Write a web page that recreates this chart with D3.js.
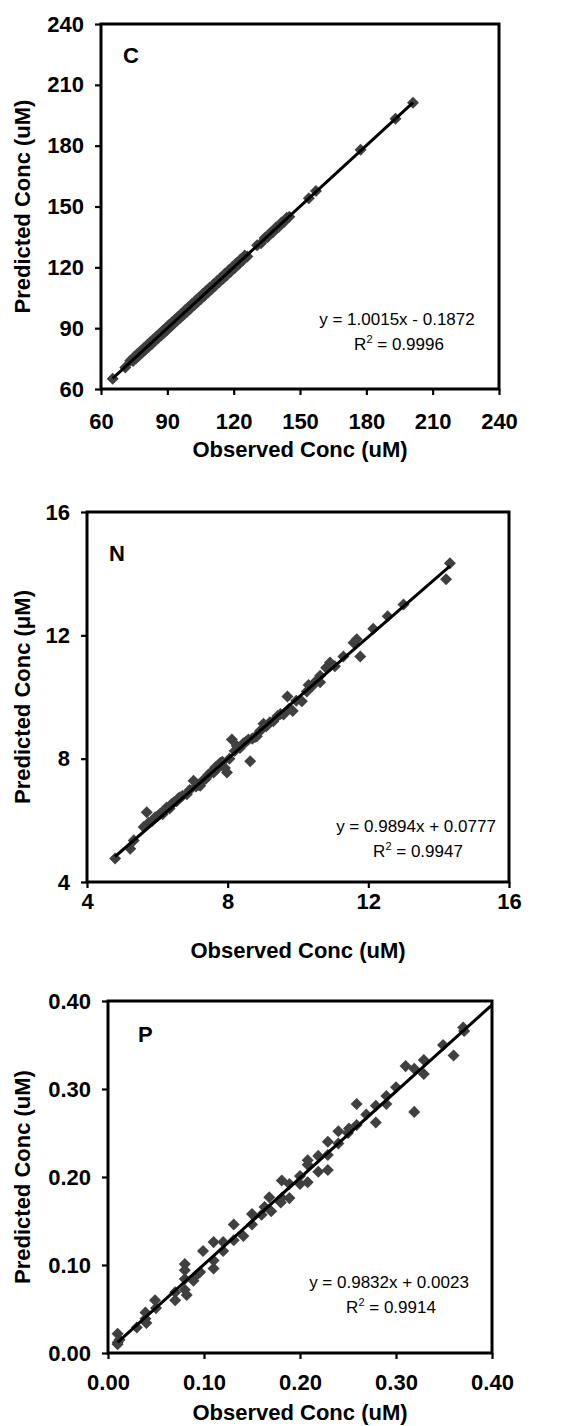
<!DOCTYPE html>
<html>
<head>
<meta charset="utf-8">
<script src="https://cdn.jsdelivr.net/npm/d3@7"></script>
<style>
  body { margin: 0; background: #fff; }
  svg { display: block; font-family: "Liberation Sans", Arial, sans-serif; }
</style>
</head>
<body>
<svg id="chart" width="570" height="1426"></svg>
<script>
// observed vs predicted
const carbonPoints = [
  [65.3,65.1],[71.0,70.6],[73.2,73.9],[74.5,73.8],[75.1,75.9],[75.8,75.0],[76.4,77.2],[77.0,76.3],
  [77.9,78.6],[78.6,77.9],[79.3,80.1],[80.1,79.4],[80.8,81.6],[81.5,80.7],[82.2,83.0],[82.9,82.1],
  [83.6,84.4],[84.4,83.7],[85.0,85.8],[85.7,84.9],[86.5,87.3],[87.2,86.4],[87.9,88.7],[88.6,87.8],
  [89.2,90.0],[89.9,89.1],[90.6,91.4],[91.4,90.6],[92.1,92.9],[92.8,92.0],[93.5,94.3],[94.3,93.5],
  [95.0,95.8],[95.8,95.0],[96.6,97.4],[97.3,96.5],[98.1,98.9],[98.9,98.1],[99.6,100.4],[100.4,99.6],
  [101.2,102.0],[102.0,101.2],[102.8,103.6],[103.5,102.7],[104.3,105.1],[105.1,104.3],[106.0,106.8],
  [106.8,106.0],[107.6,108.4],[108.4,107.6],[109.2,110.0],[110.0,109.2],[110.9,111.7],[111.7,110.9],
  [112.5,113.3],[113.4,112.6],[114.2,115.0],[115.1,114.3],[116.0,116.8],[116.8,116.0],[117.7,118.5],
  [118.6,117.8],[119.5,120.3],[120.4,119.6],[121.3,122.1],[122.2,121.4],[123.1,123.9],[124.0,123.2],
  [125.0,125.8],[126.2,125.4],[130.6,130.9],[132.4,131.9],[134.0,134.5],[135.3,134.8],[136.6,137.1],
  [137.9,137.4],[139.1,139.6],[140.4,139.9],[141.6,142.1],[142.8,142.3],[144.0,144.5],[145.2,144.9],
  [154.0,154.1],[157.2,157.6],[177.4,178.0],[193.2,193.3],[201.1,201.2]
];
const nitrogenPoints = [
  [4.80,4.76],[5.23,5.08],[5.33,5.35],[5.61,5.78],[5.70,6.26],[5.75,5.92],[5.85,5.98],[5.94,6.10],
  [6.02,6.15],[6.08,6.21],[6.15,6.20],[6.22,6.36],[6.27,6.42],[6.35,6.38],[6.40,6.52],[6.46,6.58],
  [6.55,6.62],[6.60,6.72],[6.65,6.75],[6.72,6.80],[6.84,6.85],[6.92,6.98],[7.03,7.28],[7.10,7.10],
  [7.18,7.15],[7.22,7.12],[7.30,7.30],[7.38,7.35],[7.45,7.48],[7.52,7.55],[7.60,7.55],[7.65,7.72],
  [7.69,7.66],[7.75,7.80],[7.79,7.87],[7.85,7.90],[7.92,7.70],[7.98,7.55],[8.05,8.00],[8.12,8.62],
  [8.20,8.25],[8.26,8.41],[8.35,8.35],[8.45,8.50],[8.52,8.55],[8.59,8.62],[8.64,7.92],[8.70,8.65],
  [8.78,8.70],[8.83,8.73],[8.92,8.90],[9.02,9.13],[9.10,9.05],[9.20,9.18],[9.30,9.21],[9.42,9.38],
  [9.50,9.45],[9.59,9.43],[9.70,10.02],[9.75,9.62],[9.85,9.55],[9.95,9.88],[10.11,9.86],[10.25,10.18],
  [10.30,10.39],[10.40,10.35],[10.50,10.50],[10.63,10.48],[10.63,10.69],[10.80,10.95],[10.91,11.12],
  [11.05,11.00],[11.29,11.31],[11.58,11.76],[11.67,11.87],[11.77,11.31],[12.14,12.21],[12.55,12.62],
  [13.00,13.00],[14.21,13.82],[14.32,14.34]
];
const phosphorusPoints = [
  [0.010,0.012],[0.010,0.010],[0.010,0.022],[0.012,0.015],[0.030,0.029],[0.039,0.046],[0.039,0.039],
  [0.040,0.034],[0.049,0.060],[0.050,0.051],[0.070,0.060],[0.070,0.069],[0.080,0.101],[0.080,0.094],
  [0.080,0.084],[0.080,0.072],[0.082,0.066],[0.089,0.082],[0.092,0.088],[0.096,0.092],[0.099,0.116],
  [0.110,0.126],[0.110,0.105],[0.110,0.096],[0.120,0.126],[0.120,0.116],[0.131,0.146],[0.131,0.128],
  [0.141,0.133],[0.150,0.158],[0.150,0.146],[0.160,0.157],[0.163,0.166],[0.170,0.161],[0.168,0.177],
  [0.180,0.171],[0.181,0.196],[0.181,0.176],[0.189,0.192],[0.189,0.176],[0.200,0.201],[0.200,0.192],
  [0.208,0.219],[0.208,0.214],[0.208,0.194],[0.219,0.224],[0.219,0.206],[0.229,0.240],[0.229,0.225],
  [0.229,0.208],[0.240,0.252],[0.240,0.238],[0.250,0.250],[0.251,0.255],[0.259,0.283],[0.259,0.259],
  [0.269,0.271],[0.279,0.281],[0.279,0.262],[0.290,0.292],[0.290,0.283],[0.300,0.302],[0.310,0.326],
  [0.319,0.323],[0.319,0.274],[0.329,0.333],[0.329,0.317],[0.349,0.350],[0.360,0.338],[0.370,0.370],
  [0.371,0.366]
];

const carbonTicks = [60, 90, 120, 150, 180, 210, 240];
const nitrogenTicks = [4, 8, 12, 16];
const phosphorusTicks = [0, 0.1, 0.2, 0.3, 0.4];

// trendline coefficients and text as printed by the spreadsheet
const carbonFit = { slope: 1.0015, intercept: -0.1872, eq: 'y = 1.0015x - 0.1872', r2: '0.9996' };
const nitrogenFit = { slope: 0.9894, intercept: 0.0777, eq: 'y = 0.9894x + 0.0777', r2: '0.9947' };
const phosphorusFit = { slope: 0.9832, intercept: 0.0023, eq: 'y = 0.9832x + 0.0023', r2: '0.9914' };

// layout for the three stacked panels
const panels = [
  { name: 'C', points: carbonPoints, ticks: carbonTicks, fit: carbonFit, fmt: d3.format('d'),
    box: { left: 101, right: 499, top: 24, bottom: 389 }, xPad: 18,
    yTitle: 'Predicted Conc (uM)', titleY: 457, letter: [123, 63], eqAt: [397, 325] },
  { name: 'N', points: nitrogenPoints, ticks: nitrogenTicks, fit: nitrogenFit, fmt: d3.format('d'),
    box: { left: 87, right: 509, top: 512, bottom: 882 }, xPad: 5,
    yTitle: 'Predicted Conc (\u03bcM)', titleY: 958, letter: [109, 561], eqAt: [416, 832] },
  { name: 'P', points: phosphorusPoints, ticks: phosphorusTicks, fit: phosphorusFit, fmt: d3.format('.2f'),
    box: { left: 108, right: 492, top: 1001, bottom: 1353 }, xPad: 15, lineTo: 0.4,
    yTitle: 'Predicted Conc (uM)', titleY: 1420, letter: [138, 1042], eqAt: [389, 1288] }
];

const svg = d3.select('#chart');
const diamond = d3.symbol(d3.symbolDiamond2, 92);

panels.forEach(p => {
  const dom = [p.ticks[0], p.ticks[p.ticks.length - 1]];
  const x = d3.scaleLinear().domain(dom).range([p.box.left, p.box.right]);
  const y = d3.scaleLinear().domain(dom).range([p.box.bottom, p.box.top]);
  const g = svg.append('g');

  g.selectAll('.pt').data(p.points).join('path')
    .attr('class', 'pt')
    .attr('transform', d => `translate(${x(d[0])},${y(d[1])})`)
    .attr('d', diamond)
    .attr('fill', '#404040');

  // linear trendline over top of the markers
  const x0 = d3.min(p.points, d => d[0]);
  const x1 = p.lineTo !== undefined ? p.lineTo : d3.max(p.points, d => d[0]);
  const f = v => p.fit.slope * v + p.fit.intercept;
  g.append('line')
    .attr('x1', x(x0)).attr('y1', y(f(x0)))
    .attr('x2', x(x1)).attr('y2', y(f(x1)))
    .attr('stroke', '#000').attr('stroke-width', 3);

  const xAxis = g.append('g')
    .attr('transform', `translate(0,${p.box.bottom})`)
    .call(d3.axisBottom(x).tickValues(p.ticks).tickFormat(p.fmt).tickSize(6).tickSizeOuter(0).tickPadding(p.xPad));
  const yAxis = g.append('g')
    .attr('transform', `translate(${p.box.left},0)`)
    .call(d3.axisLeft(y).tickValues(p.ticks).tickFormat(p.fmt).tickSize(6).tickSizeOuter(0).tickPadding(11));
  [xAxis, yAxis].forEach(a => {
    a.select('.domain').remove();
    a.attr('font-family', null).attr('font-size', null);
    a.selectAll('line').attr('stroke', '#000').attr('stroke-width', 2.2);
    a.selectAll('text').attr('fill', '#000').attr('font-size', '22px').attr('font-weight', 'bold');
  });

  g.append('rect')
    .attr('x', p.box.left).attr('y', p.box.top)
    .attr('width', p.box.right - p.box.left).attr('height', p.box.bottom - p.box.top)
    .attr('fill', 'none').attr('stroke', '#000').attr('stroke-width', 3);

  // panel letter
  g.append('text').attr('x', p.letter[0]).attr('y', p.letter[1])
    .attr('font-size', '22px').attr('font-weight', 'bold').text(p.name);

  // axis titles
  g.append('text')
    .attr('x', (p.box.left + p.box.right) / 2).attr('y', p.titleY)
    .attr('text-anchor', 'middle').attr('font-size', '22px').attr('font-weight', 'bold')
    .text('Observed Conc (uM)');
  g.append('text')
    .attr('transform', `translate(30,${(p.box.top + p.box.bottom) / 2}) rotate(-90)`)
    .attr('text-anchor', 'middle').attr('font-size', '22px').attr('font-weight', 'bold')
    .text(p.yTitle);

  // equation + R squared
  const eq = g.append('text').attr('text-anchor', 'middle').attr('font-size', '17px');
  eq.append('tspan').attr('x', p.eqAt[0]).attr('y', p.eqAt[1]).text(p.fit.eq);
  const r = g.append('text').attr('text-anchor', 'middle').attr('font-size', '17px')
    .attr('x', p.eqAt[0] + 2).attr('y', p.eqAt[1] + 25);
  r.append('tspan').text('R');
  r.append('tspan').attr('font-size', '11px').attr('dy', -7).text('2');
  r.append('tspan').attr('dy', 7).text(' = ' + p.fit.r2);
});
</script>
</body>
</html>
